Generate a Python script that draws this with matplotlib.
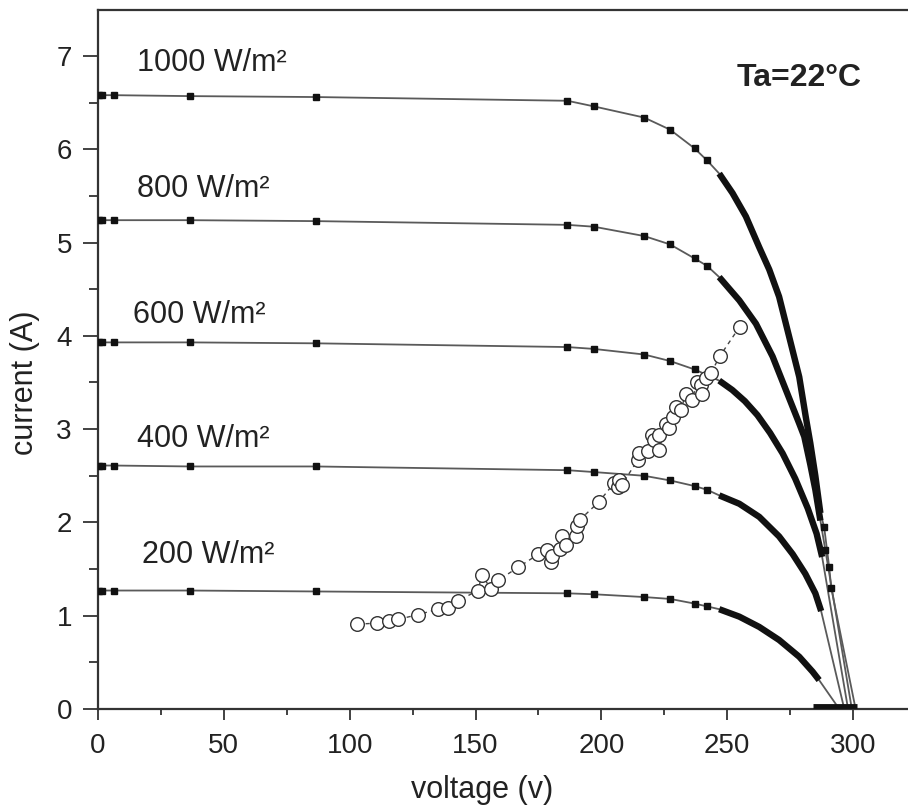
import matplotlib
matplotlib.use("Agg")
import matplotlib.pyplot as plt
from matplotlib.ticker import MultipleLocator

plt.rcParams['font.family'] = ['Liberation Sans', 'DejaVu Sans']

# ---- measured I-V data (voltage in V, current in A) ----
irradiance_labels = ['1000 W/m²', '800 W/m²', '600 W/m²', '400 W/m²', '200 W/m²']

# sparse points on the flat part (same voltages for every curve)
v_sparse = [0.3, 1.5, 6.3, 36.5, 86.5, 186.5, 197, 217, 227.3, 237, 242]
i_sparse_1000 = [6.58, 6.58, 6.58, 6.57, 6.56, 6.52, 6.46, 6.34, 6.21, 6.01, 5.88]
i_sparse_800 = [5.24, 5.24, 5.24, 5.24, 5.23, 5.19, 5.17, 5.07, 4.98, 4.83, 4.75]
i_sparse_600 = [3.93, 3.93, 3.93, 3.93, 3.92, 3.88, 3.86, 3.80, 3.73, 3.64, 3.58]
i_sparse_400 = [2.61, 2.61, 2.61, 2.60, 2.60, 2.56, 2.54, 2.50, 2.45, 2.39, 2.35]
i_sparse_200 = [1.27, 1.27, 1.27, 1.27, 1.26, 1.24, 1.23, 1.20, 1.18, 1.13, 1.10]

# densely sampled knee region
v_dense_1000 = [246.8, 252.1, 257.4, 262.7, 266.7, 270.6, 274.6, 278.6, 281.2, 283.0, 285.0, 287.0]
i_dense_1000 = [5.74, 5.53, 5.28, 4.95, 4.71, 4.42, 3.99, 3.56, 3.13, 2.85, 2.50, 2.10]
v_dense_800 = [246.8, 254.8, 261.4, 268.0, 273.3, 278.6, 280.6, 283.0, 285.0, 287.0]
i_dense_800 = [4.63, 4.38, 4.13, 3.78, 3.42, 3.06, 2.92, 2.62, 2.35, 2.02]
v_dense_600 = [246.8, 252.0, 257.0, 262.0, 267.0, 272.0, 277.0, 282.0, 285.5, 287.7]
i_dense_600 = [3.52, 3.42, 3.30, 3.15, 2.96, 2.74, 2.47, 2.15, 1.88, 1.63]
v_dense_400 = [246.8, 254.8, 262.7, 270.6, 276.0, 281.0, 285.0, 287.3]
i_dense_400 = [2.29, 2.20, 2.06, 1.85, 1.66, 1.45, 1.24, 1.05]
v_dense_200 = [246.8, 254.8, 262.7, 270.6, 278.6, 283.9, 286.5]
i_dense_200 = [1.07, 0.99, 0.88, 0.74, 0.56, 0.40, 0.31]

# last isolated points before open circuit
v_tail_1000 = [288.5, 290.5, 291.3]
i_tail_1000 = [1.95, 1.52, 1.30]
v_tail_800 = [289.0]
i_tail_800 = [1.70]

# open-circuit voltages
voc = [301.0, 299.5, 298.0, 296.5, 294.5]
# zero-current samples along the voltage axis
v_zero_current = [284.0, 301.5]

# operating points (open circles)
v_op = [103, 111, 115.5, 119, 127, 135, 139, 143, 151, 152.5, 156, 159, 167, 175,
        178.5, 180, 180.5, 183.5, 184.5, 186, 190, 190.5, 191.5, 199, 205, 206.5,
        207, 208, 214.5, 215, 218.5, 220, 221, 223, 223, 225.5, 227, 228.5, 229.5,
        231.5, 233.5, 236, 238, 239.5, 240, 241.5, 243.5, 247, 255]
i_op = [0.91, 0.92, 0.94, 0.96, 1.01, 1.07, 1.08, 1.16, 1.27, 1.44, 1.29, 1.38, 1.52, 1.66,
        1.70, 1.58, 1.64, 1.72, 1.85, 1.76, 1.85, 1.96, 2.03, 2.22, 2.42, 2.38,
        2.46, 2.40, 2.67, 2.74, 2.77, 2.94, 2.88, 2.78, 2.94, 3.05, 3.01, 3.13, 3.24,
        3.20, 3.38, 3.31, 3.50, 3.47, 3.38, 3.55, 3.60, 3.78, 4.10]

ambient_label = 'Ta=22°C'

sparse_sets = [i_sparse_1000, i_sparse_800, i_sparse_600, i_sparse_400, i_sparse_200]
dense_sets = [(v_dense_1000, i_dense_1000), (v_dense_800, i_dense_800),
              (v_dense_600, i_dense_600), (v_dense_400, i_dense_400),
              (v_dense_200, i_dense_200)]
tail_sets = [(v_tail_1000, i_tail_1000), (v_tail_800, i_tail_800), ([], []), ([], []), ([], [])]
label_pos = [(15.5, 6.84), (15.5, 5.49), (14.0, 4.14), (15.5, 2.81), (17.5, 1.56)]

# ---- figure ----
W, H = 908, 807
fig = plt.figure(figsize=(W / 100, H / 100), dpi=100)
ax = fig.add_axes([98 / W, 1 - 709 / H, 810 / W, 699 / H])

ink = '#222222'
for lbl, i_sp, (vd, idn), (vt, it), v_oc, pos in zip(
        irradiance_labels, sparse_sets, dense_sets, tail_sets, voc, label_pos):
    v_all = v_sparse + vd + vt + [v_oc]
    i_all = i_sp + idn + it + [0.0]
    ax.plot(v_all, i_all, color='#5a5a5a', lw=1.3, zorder=2)
    ax.plot(v_sparse + vt, i_sp + it, ls='none', marker='s', ms=4.3,
            color='#111111', zorder=3)
    ax.plot(vd, idn, color='#111111', lw=4.6, solid_capstyle='butt',
            solid_joinstyle='round', zorder=3)
    ax.text(pos[0], pos[1], lbl, fontsize=22, color=ink, ha='left', va='baseline')

ax.plot(v_zero_current, [0.03, 0.03], color='#111111', lw=3.5,
        solid_capstyle='butt', zorder=3, clip_on=False)

ax.plot(v_op, i_op, color='#444444', lw=1.0, ls=(0, (3, 3)), marker='o', ms=9.8,
        mfc='white', mec='#333333', mew=1.0, zorder=4)

fig.text(737 / W, 1 - 78 / H, ambient_label, fontsize=23, fontweight='bold',
         color=ink, ha='left', va='center')

ax.set_xlim(0, 810 / 2.517)
ax.set_ylim(0, 7 + 46 / 93.29)
ax.yaxis.set_major_locator(MultipleLocator(1))
ax.yaxis.set_minor_locator(MultipleLocator(0.5))
ax.set_xticks([0, 50, 100, 150, 200, 250, 300])
ax.set_xticks([25, 75, 125, 175, 225, 275], minor=True)

ax.tick_params(axis='x', which='major', direction='out', length=8, width=1.3,
               pad=9, labelsize=20, colors='#333333', labelcolor=ink)
ax.tick_params(axis='x', which='minor', direction='out', length=4.5, width=1.3,
               colors='#333333')
ax.tick_params(axis='y', which='major', direction='out', length=10.8, width=1.3,
               pad=8, labelsize=20, colors='#333333', labelcolor=ink)
ax.tick_params(axis='y', which='minor', direction='out', length=6.5, width=1.3,
               colors='#333333')

for side in ('left', 'bottom', 'top'):
    ax.spines[side].set_linewidth(1.6)
    ax.spines[side].set_color('#333333')
ax.spines['right'].set_visible(False)

fig.text(482 / W, 1 - 790 / H, 'voltage (v)', fontsize=22, color=ink,
         ha='center', va='center')
fig.text(25 / W, 1 - 383 / H, 'current (A)', fontsize=22, color=ink,
         ha='center', va='center', rotation=90)

fig.savefig('out.png', dpi=100, facecolor='white')
